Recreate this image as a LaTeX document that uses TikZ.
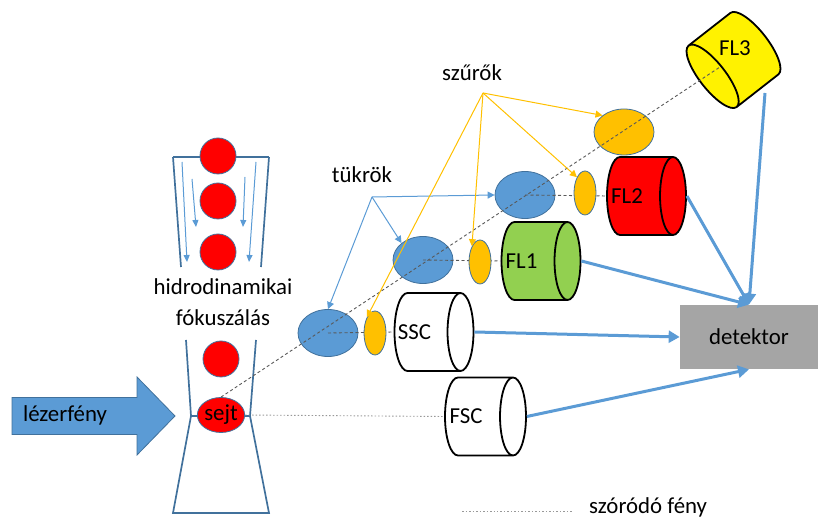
\documentclass[tikz,border=0pt]{standalone}
\usepackage{fontspec}
\setmainfont{Carlito}
\usetikzlibrary{shapes.geometric,arrows.meta}

\definecolor{officeblue}{HTML}{5B9BD5}
\definecolor{edgeblue}{HTML}{41719C}
\definecolor{filterorange}{HTML}{FFC000}
\definecolor{fleen}{HTML}{92D050}
\definecolor{detgray}{HTML}{A5A5A5}

\tikzset{
  cell/.style={circle,fill=red,draw=edgeblue,line width=0.016cm,minimum size=0.720000cm,inner sep=0pt},
  mirror/.style={ellipse,fill=officeblue,draw=edgeblue,line width=0.016cm,minimum width=1.200000cm,minimum height=0.940000cm,inner sep=0pt},
  filter/.style={ellipse,fill=filterorange,draw=edgeblue,line width=0.016cm,minimum width=0.440000cm,minimum height=0.880000cm,inner sep=0pt},
  % the cylinder takes its length from minimum height
  pmt/.style={cylinder,anchor=shape center,draw=black,line width=0.036cm,shape aspect=0.333,inner xsep=0pt,inner ysep=0.780000cm,minimum height=1.580000cm},
  pmt label/.style={label={[xshift=-0.120000cm]center:#1}},
  tube/.style={edgeblue,line width=0.034cm},
  flow/.style={officeblue,line width=0.020cm,-{Triangle[length=0.140000cm,width=0.120000cm]}},
  pointer/.style={line width=0.020cm,-{Triangle[length=0.140000cm,width=0.140000cm]}},
  beam/.style={black!65,line width=0.018cm,dash pattern=on 0.060000cm off 0.050000cm},
  scatter/.style={black!40,line width=0.018cm,dash pattern=on 0.030000cm off 0.040000cm},
  signal/.style={officeblue,line width=0.060000cm,-{Triangle[length=0.220000cm,width=0.240000cm]}},
}

\begin{document}
\begin{tikzpicture}[font=\fontsize{13}{17.5}\selectfont]
                        \useasboundingbox (0,0) rectangle (16.360000,10.340000);

                        % Drawing upper part of the flow chamber
                        \draw [tube] (3.460000,7.200000) -- (5.380000,7.200000);%
                        \draw [tube] (3.460000,7.200000) -- (3.620000,5.000000);%
                        \draw [tube] (5.380000,7.200000) -- (5.220000,5.000000);%

                        % Drawing sheath flow arrows
                        \draw [flow] (3.640000,7.100000) -- (3.740000,5.100000);%
                        \draw [flow] (3.840000,6.760000) -- (3.920000,5.800000);%
                        \draw [flow] (4.900000,6.800000) -- (4.860000,5.800000);%
                        \draw [flow] (5.120000,7.100000) -- (4.980000,5.100000);%

                        % Drawing lower part of the flow chamber
                        \draw [tube] (3.720000,3.540000) -- (3.820000,2.020000) -- (3.460000,0.080000) -- (5.380000,0.080000) -- (5.000000,2.020000) -- (5.120000,3.540000);%
                        \draw [tube] (3.820000,2.020000) -- (5.000000,2.020000);%

                        % Marking cells
                        \node [cell] (c1) at (4.360000,7.220000) {};%
                        \node [cell] (c2) at (4.360000,6.320000) {};%
                        \node [cell] (c3) at (4.360000,5.300000) {};%
                        \node [cell] (c4) at (4.420000,3.160000) {};%
                        \node [cell,ellipse,minimum width=0.780000cm,minimum height=0.700000cm] (sejt) at (4.420000,2.040000) {sejt};%

                        % Marking label of the focusing
                        \node [align=center] (hidro) at (4.460000,4.290000) {hidrodinamikai\\fókuszálás};%

                        % Drawing laser arrow
                        \draw [fill=officeblue,draw=edgeblue,line width=0.016cm] (0.240000,1.650000) -- (2.740000,1.650000) -- (2.740000,1.240000) -- (3.500000,2.020000) -- (2.740000,2.800000) -- (2.740000,2.390000) -- (0.240000,2.390000) -- cycle;%
                        \node (laser) at (1.300000,2.040000) {lézerfény};%

                        % Drawing mirrors
                        \node [mirror] (M1) at (6.560000,3.680000) {};%
                        \node [mirror] (M2) at (8.460000,5.140000) {};%
                        \node [mirror] (M3) at (10.500000,6.440000) {};%

                        % Drawing detectors
                        \node [pmt,fill=white,minimum height=1.620000cm,pmt label=FSC] (FSC) at (9.710000,2.010000) {};%
                        \node [pmt,fill=white,pmt label=SSC] (SSC) at (8.680000,3.700000) {};%
                        \node [pmt,fill=fleen,pmt label=FL1] (FL1) at (10.820000,5.120000) {};%
                        \node [pmt,fill=red,pmt label=FL2] (FL2) at (12.930000,6.420000) {};%
                        \node [pmt,fill=yellow,rotate=218] (FL3) at (14.670000,9.140000) {};%
                        \node (fl3text) at (14.700000,9.380000) {FL3};%

                        % Drawing side scatter and fluorescence beams
                        \draw [scatter] (sejt.east) -- (FSC.west);%
                        \draw [beam] (M1.center) -- (SSC.west);%
                        \draw [beam] (M2.center) -- (FL1.west);%
                        \draw [beam] (M3.center) -- (FL2.west);%

                        % Drawing filters
                        \node [filter] (F1) at (7.500000,3.680000) {};%
                        \node [filter] (F2) at (9.600000,5.100000) {};%
                        \node [filter] (F3) at (11.700000,6.480000) {};%
                        \node [filter,minimum width=1.200000cm,minimum height=0.920000cm] (F4) at (12.480000,7.700000) {};%

                        \coordinate (fl3in) at (14.400000,9.000000);%
                        \draw [beam] (sejt.north) -- (fl3in);%

                        % Marking mirror pointers
                        \node (tukrok) at (7.240000,6.840000) {tükrök};%
                        \coordinate (tk) at (7.440000,6.400000);%
                        \draw [pointer,officeblue] (tk) -- (M3.west);%
                        \draw [pointer,officeblue] (tk) -- (M2.north west);%
                        \draw [pointer,officeblue] (tk) -- (M1.north);%

                        % Marking filter pointers
                        \node (szurok) at (9.440000,8.880000) {szűrők};%
                        \coordinate (sz) at (9.660000,8.480000);%
                        \draw [pointer,filterorange] (sz) -- (F4.north west);%
                        \draw [pointer,filterorange] (sz) -- (F3.north west);%
                        \draw [pointer,filterorange] (sz) -- (F2.north west);%
                        \draw [pointer,filterorange] (sz) -- (F1.north west);%

                        % Drawing detector box and signals
                        \node [fill=detgray,minimum width=2.760000cm,minimum height=1.280000cm,inner sep=0pt] (det) at (14.980000,3.600000) {detektor};%
                        \coordinate (fl3out) at (15.300000,8.480000);%
                        \draw [signal] (SSC.east) -- (det.west);%
                        \draw [signal] (FSC.east) -- (det.south);%
                        \draw [signal] (FL1.east) -- (det.north);%
                        \draw [signal] (FL2.east) -- (det.north);%
                        \draw [signal] (fl3out) -- (det.north);%

                        % Marking legend
                        \coordinate (lg1) at (9.240000,0.120000);%
                        \coordinate (lg2) at (11.440000,0.120000);%
                        \draw [scatter] (lg1) -- (lg2);%
                        \node [anchor=west] (legend) at (11.660000,0.200000) {szóródó fény};%
\end{tikzpicture}
\end{document}
